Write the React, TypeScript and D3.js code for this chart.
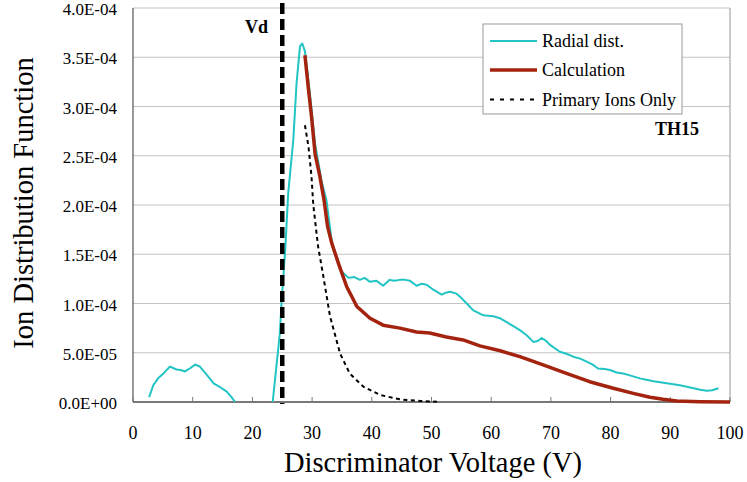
import React from "react";
import * as d3 from "d3";

const xTicks = [0, 10, 20, 30, 40, 50, 60, 70, 80, 90, 100];
const yTicks = [0, 0.5e-4, 1.0e-4, 1.5e-4, 2.0e-4, 2.5e-4, 3.0e-4, 3.5e-4, 4.0e-4];
const yTickLabels = ["0.0E+00", "5.0E-05", "1.0E-04", "1.5E-04", "2.0E-04", "2.5E-04", "3.0E-04", "3.5E-04", "4.0E-04"];

// Radial dist. (null = gap)
const radialV: number[] = [2.7, 3.4, 4.2, 5.1, 6.2, 7.3, 8.0, 8.7, 9.5, 10.4, 11.2, 12.3, 13.5, 14.6, 15.7, 16.5, 17.1, 20.0,
  23.4, 24.0, 24.6, 24.9, 25.5, 26.0, 26.85, 27.4, 27.97, 28.36, 28.8, 29.65, 30.5, 31.6, 32.4, 33.3, 34.7, 36.1, 37.0, 38.0, 38.8, 39.7, 40.8, 41.9, 43.0, 43.8, 44.7, 45.6, 46.4, 47.5, 48.3, 49.2, 50.3, 51.7, 52.4, 53.1, 54.2, 55.1, 55.9, 57.0, 58.7, 60.35,
  61.5, 62.6, 63.7, 64.8, 65.9, 67.05, 67.8, 68.45, 69.2, 69.85, 71.5, 72.6, 73.75, 74.9, 76.0, 77.0, 77.9, 79.0, 79.9, 81.0, 82.1, 83.5, 84.9, 86.0, 87.2, 88.3, 89.4, 90.5, 91.6, 92.8, 93.9, 95.0, 96.1, 97.0, 98.05];
const radialY: (number | null)[] = [0.05e-4, 0.17e-4, 0.24e-4, 0.29e-4, 0.36e-4, 0.33e-4, 0.325e-4, 0.31e-4, 0.34e-4, 0.38e-4, 0.36e-4, 0.28e-4, 0.19e-4, 0.15e-4, 0.105e-4, 0.05e-4, 0.0, null,
  0.0, 0.35e-4, 0.70e-4, 1.03e-4, 1.55e-4, 2.12e-4, 2.66e-4, 3.24e-4, 3.61e-4, 3.64e-4, 3.56e-4, 3.12e-4, 2.62e-4, 2.24e-4, 2.05e-4, 1.63e-4, 1.34e-4, 1.26e-4, 1.27e-4, 1.24e-4, 1.26e-4, 1.22e-4, 1.23e-4, 1.18e-4, 1.24e-4, 1.23e-4, 1.24e-4, 1.24e-4, 1.23e-4, 1.18e-4, 1.20e-4, 1.19e-4, 1.14e-4, 1.09e-4, 1.11e-4, 1.12e-4, 1.10e-4, 1.05e-4, 1.0e-4, 0.93e-4, 0.88e-4, 0.87e-4,
  0.85e-4, 0.81e-4, 0.77e-4, 0.73e-4, 0.68e-4, 0.61e-4, 0.62e-4, 0.65e-4, 0.62e-4, 0.58e-4, 0.51e-4, 0.49e-4, 0.46e-4, 0.44e-4, 0.41e-4, 0.38e-4, 0.34e-4, 0.335e-4, 0.325e-4, 0.30e-4, 0.29e-4, 0.265e-4, 0.24e-4, 0.225e-4, 0.21e-4, 0.20e-4, 0.19e-4, 0.18e-4, 0.17e-4, 0.155e-4, 0.14e-4, 0.125e-4, 0.115e-4, 0.12e-4, 0.14e-4];

// Calculation
const calcV = [28.8, 29.4, 29.9, 30.5, 31.3, 32.0, 32.6, 33.3, 34.4, 35.8, 37.5, 39.7, 41.9, 44.7, 47.5, 49.7, 52.5, 55.3, 58.1, 61.5, 64.8, 68.7, 72.6, 76.5, 80.45, 83.8, 86.6, 88.8, 91.1, 95.0, 100.0];
const calcY = [3.52e-4, 3.17e-4, 2.90e-4, 2.52e-4, 2.29e-4, 2.05e-4, 1.78e-4, 1.61e-4, 1.41e-4, 1.17e-4, 0.97e-4, 0.85e-4, 0.78e-4, 0.75e-4, 0.71e-4, 0.70e-4, 0.66e-4, 0.63e-4, 0.57e-4, 0.52e-4, 0.46e-4, 0.376e-4, 0.29e-4, 0.206e-4, 0.139e-4, 0.088e-4, 0.048e-4, 0.027e-4, 0.01e-4, 0.003e-4, 0.0];

// Primary Ions Only
const primV = [28.8, 29.4, 29.9, 30.2, 31.0, 31.9, 33.0, 34.7, 36.3, 38.6, 41.4, 44.7, 48.1, 50.9];
const primY = [2.81e-4, 2.59e-4, 2.29e-4, 2.0e-4, 1.58e-4, 1.27e-4, 0.87e-4, 0.49e-4, 0.29e-4, 0.155e-4, 0.071e-4, 0.027e-4, 0.01e-4, 0.003e-4];

const vdValue = 25;

const seriesNames = ["Radial dist.", "Calculation", "Primary Ions Only"];
const CYAN = "#22C4C4";
const BROWN = "#A3230F";

const W = 747, H = 482;
const L = 133, R = 730, T = 8, B = 402;

export default function App() {
  const x = d3.scaleLinear().domain([0, 100]).range([L, R]);
  const y = d3.scaleLinear().domain([0, 4e-4]).range([B, T]);
  const font = "Liberation Serif, DejaVu Serif, serif";

  const lineGen = d3.line<[number, number | null]>()
    .defined((d) => d[1] !== null)
    .x((d) => x(d[0]))
    .y((d) => y(d[1] as number));

  const radial = radialV.map((v, i) => [v, radialY[i]] as [number, number | null]);
  const calc = calcV.map((v, i) => [v, calcY[i]] as [number, number | null]);
  const prim = primV.map((v, i) => [v, primY[i]] as [number, number | null]);

  const legX = 483, legY = 24, legW = 199, legH = 90;
  const rows = [41, 70, 99.5];

  return (
    <svg width={W} height={H} style={{ position: "absolute", left: 0, top: 0, background: "#fff" }}>
      {yTicks.map((t, i) => (
        <line key={"g" + i} x1={L} x2={R} y1={y(t)} y2={y(t)} stroke="#C4C4C4" strokeWidth={1.2} />
      ))}
      <line x1={R} x2={R} y1={T} y2={B} stroke="#A8A8A8" strokeWidth={1.2} />
      <line x1={L} x2={L} y1={T} y2={B} stroke="#555" strokeWidth={1.2} />
      <line x1={L} x2={R} y1={B} y2={B} stroke="#555" strokeWidth={1.4} />
      {xTicks.map((t, i) => (
        <line key={"xt" + i} x1={x(t)} x2={x(t)} y1={B} y2={B - 5} stroke="#777" strokeWidth={1} />
      ))}
      {yTicks.map((t, i) => (
        <text key={"yl" + i} x={117} y={y(t) + 7} textAnchor="end" fontFamily={font} fontSize={17} fill="#000">
          {yTickLabels[i]}
        </text>
      ))}
      {xTicks.map((t, i) => (
        <text key={"xl" + i} x={x(t)} y={439} textAnchor="middle" fontFamily={font} fontSize={18} fill="#000">
          {t}
        </text>
      ))}
      <text x={433} y={472} textAnchor="middle" fontFamily={font} fontSize={28.5} fill="#000">
        Discriminator Voltage (V)
      </text>
      <text transform={`translate(33,203) rotate(-90)`} textAnchor="middle" fontFamily={font} fontSize={28.5} fill="#000">
        Ion Distribution Function
      </text>

      <path d={lineGen(radial) || ""} fill="none" stroke={CYAN} strokeWidth={2} strokeLinejoin="round" />
      <path d={lineGen(calc) || ""} fill="none" stroke={BROWN} strokeWidth={3.5} strokeLinejoin="round" />
      <path d={lineGen(prim) || ""} fill="none" stroke="#000" strokeWidth={2} strokeDasharray="4,3.5" />

      <line x1={x(vdValue)} x2={x(vdValue)} y1={3} y2={404} stroke="#000" strokeWidth={4.5} strokeDasharray="11,5" />
      <text x={245} y={33} fontFamily={font} fontSize={18} fontWeight="bold" fill="#000">Vd</text>
      <text x={655} y={135} fontFamily={font} fontSize={18} fontWeight="bold" fill="#000">TH15</text>

      <rect x={legX} y={legY} width={legW} height={legH} fill="#fff" stroke="#999" strokeWidth={1} />
      <line x1={490} x2={537} y1={rows[0]} y2={rows[0]} stroke={CYAN} strokeWidth={2} />
      <line x1={490} x2={537} y1={rows[1]} y2={rows[1]} stroke={BROWN} strokeWidth={3.5} />
      <line x1={490} x2={537} y1={rows[2]} y2={rows[2]} stroke="#000" strokeWidth={2} strokeDasharray="4,6" />
      {seriesNames.map((n, i) => (
        <text key={"lg" + i} x={542} y={rows[i] + 6} fontFamily={font} fontSize={18} fill="#000">{n}</text>
      ))}
    </svg>
  );
}
